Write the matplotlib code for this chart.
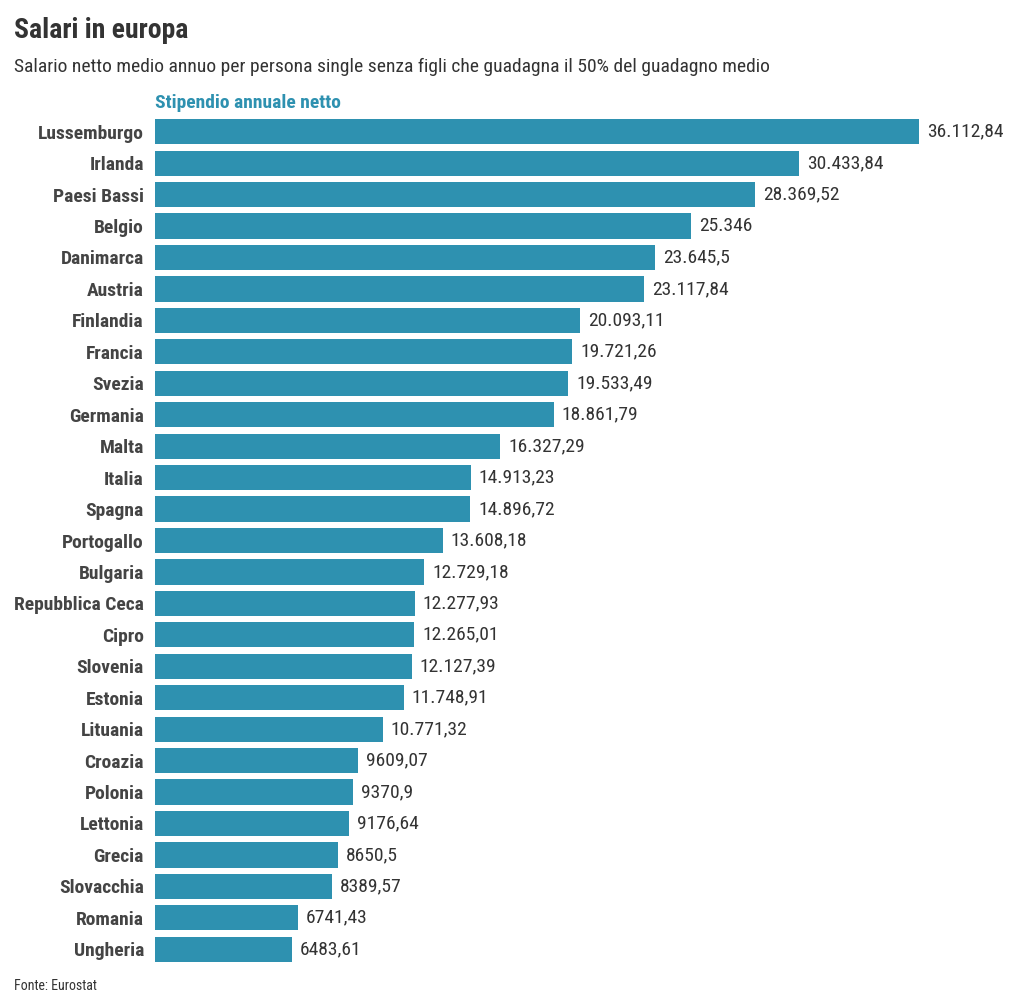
import matplotlib.pyplot as plt
from matplotlib import font_manager

# Dati (Eurostat)
paesi = ['Lussemburgo', 'Irlanda', 'Paesi Bassi', 'Belgio', 'Danimarca', 'Austria',
         'Finlandia', 'Francia', 'Svezia', 'Germania', 'Malta', 'Italia', 'Spagna',
         'Portogallo', 'Bulgaria', 'Repubblica Ceca', 'Cipro', 'Slovenia', 'Estonia',
         'Lituania', 'Croazia', 'Polonia', 'Lettonia', 'Grecia', 'Slovacchia',
         'Romania', 'Ungheria']
stipendi = [36112.84, 30433.84, 28369.52, 25346, 23645.5, 23117.84,
            20093.11, 19721.26, 19533.49, 18861.79, 16327.29, 14913.23, 14896.72,
            13608.18, 12729.18, 12277.93, 12265.01, 12127.39, 11748.91,
            10771.32, 9609.07, 9370.9, 9176.64, 8650.5, 8389.57,
            6741.43, 6483.61]
etichette = ['36.112,84', '30.433,84', '28.369,52', '25.346', '23.645,5', '23.117,84',
             '20.093,11', '19.721,26', '19.533,49', '18.861,79', '16.327,29', '14.913,23',
             '14.896,72', '13.608,18', '12.729,18', '12.277,93', '12.265,01', '12.127,39',
             '11.748,91', '10.771,32', '9609,07', '9370,9', '9176,64', '8650,5',
             '8389,57', '6741,43', '6483,61']

installed = {f.name for f in font_manager.fontManager.ttflist}
fams = [f for f in ['Roboto Condensed', 'Liberation Sans Narrow', 'Roboto', 'DejaVu Sans'] if f in installed]
plt.rcParams['font.family'] = fams

blu = '#2e91b0'
grigio = '#333333'

fig = plt.figure(figsize=(10.2, 10.08), dpi=100)
ax = fig.add_axes([155 / 1020, 1 - 965 / 1008, 845 / 1020, (965 - 116) / 1008])

y = list(range(len(paesi)))
ax.barh(y, stipendi, height=0.8, color=blu)
for yi, v, lab in zip(y, stipendi, etichette):
    ax.text(v + 370, yi, lab, va='center', ha='left', fontsize=14, color=grigio)

ax.set_ylim(len(paesi) - 0.5, -0.5)
ax.set_xlim(0, 845 / 764 * 36112.84)
ax.set_yticks(y)
ax.set_yticklabels(paesi, fontsize=14, fontweight='bold', color='#444444')
ax.tick_params(axis='y', length=0, pad=8)
ax.set_xticks([])
for s in ax.spines.values():
    s.set_visible(False)

fig.text(14 / 1020, 1 - 31 / 1008, 'Salari in europa', fontsize=20, fontweight='bold',
         color=grigio, va='center', ha='left')
fig.text(14 / 1020, 1 - 67 / 1008,
         'Salario netto medio annuo per persona single senza figli che guadagna il 50% del guadagno medio',
         fontsize=14, color=grigio, va='center', ha='left')
fig.text(155 / 1020, 1 - 103 / 1008, 'Stipendio annuale netto', fontsize=14, fontweight='bold',
         color=blu, va='center', ha='left')
fig.text(14 / 1020, 1 - 986 / 1008, 'Fonte: Eurostat', fontsize=10, color=grigio,
         va='center', ha='left')

fig.savefig('out.png', dpi=100)
